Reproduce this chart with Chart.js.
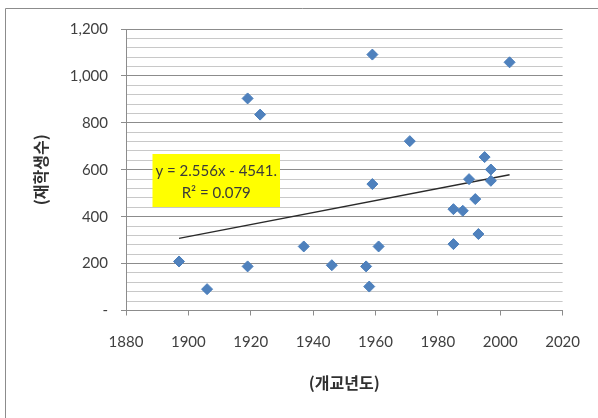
<!DOCTYPE html>
<html>
<head>
<meta charset="utf-8">
<script src="https://cdn.jsdelivr.net/npm/chart.js@4.4.0/dist/chart.umd.min.js"></script>
<style>
  html, body { margin: 0; padding: 0; background: #ffffff; }
  canvas { display: block; }
</style>
</head>
<body>
<canvas id="c" width="598" height="418"></canvas>
<script>
// ---- data ----
const openingYears = [1897, 1906, 1919, 1923, 1919, 1937, 1946, 1957, 1958, 1959, 1959, 1961,
                      1971, 1985, 1985, 1988, 1990, 1992, 1993, 1995, 1997, 1997, 2003];
const studentCounts = [209, 91, 904, 835, 188, 273, 193, 188, 102, 539, 1091, 273,
                       722, 283, 432, 425, 560, 475, 326, 654, 601, 553, 1058];
const trendSlope = 2.556;
const trendIntercept = -4541;
const trendLabelLines = ['y = 2.556x - 4541.', 'R\u00B2 = 0.079'];
const xTitle = '(개교년도)';
const yTitle = '(재학생수)';

const points = openingYears.map((x, i) => ({ x: x, y: studentCounts[i] }));
const xMin = Math.min(...openingYears);
const xMax = Math.max(...openingYears);
const trendPoints = [xMin, xMax].map(x => ({ x: x, y: trendSlope * x + trendIntercept }));

const TICK_FONT = { family: 'Lato, "Open Sans", sans-serif', size: 15 };
const TITLE_FONT = { family: '"Noto Sans CJK KR", sans-serif', size: 16, weight: 'bold' };

const frame = {
  id: 'frame',
  beforeDraw(chart) {
    const ctx = chart.ctx;
    ctx.save();
    ctx.strokeStyle = '#8c8c8c';
    ctx.lineWidth = 1;
    ctx.beginPath();
    ctx.moveTo(5.5, 430);
    ctx.lineTo(5.5, 8.5);
    ctx.lineTo(610, 8.5);
    ctx.stroke();
    ctx.restore();
  }
};

const trendLabel = {
  id: 'trendLabel',
  afterDatasetsDraw(chart) {
    const { ctx, chartArea } = chart;
    const left = chartArea.left + 26.5, top = chartArea.top + 125;
    const w = 127.5, h = 53;
    ctx.save();
    ctx.fillStyle = '#ffff00';
    ctx.fillRect(left, top, w, h);
    ctx.fillStyle = '#3a3a3a';
    ctx.font = '15px Lato, "Open Sans", sans-serif';
    ctx.textAlign = 'center';
    ctx.textBaseline = 'middle';
    ctx.fillText(trendLabelLines[0], left + w / 2, top + 17);
    ctx.fillText(trendLabelLines[1], left + w / 2, top + 39);
    ctx.restore();
  }
};

new Chart(document.getElementById('c'), {
  type: 'scatter',
  data: {
    datasets: [
      {
        label: '재학생수',
        data: points,
        pointStyle: 'rectRot',
        pointRadius: 5.5,
        pointHoverRadius: 5.5,
        backgroundColor: '#4f81bd',
        borderColor: '#4a7ebb',
        borderWidth: 1,
        order: 1
      },
      {
        type: 'line',
        label: 'trend',
        data: trendPoints,
        borderColor: '#2a2a2a',
        borderWidth: 1.3,
        pointRadius: 0,
        fill: false,
        order: 2
      }
    ]
  },
  options: {
    responsive: false,
    animation: false,
    layout: { padding: { top: 29, right: 31, left: 0, bottom: 0 } },
    plugins: {
      legend: { display: false },
      tooltip: { enabled: false }
    },
    scales: {
      x: {
        type: 'linear',
        min: 1880,
        max: 2020,
        afterFit(scale) { scale.height = 107.5; },
        ticks: {
          stepSize: 20,
          color: '#404040',
          font: TICK_FONT,
          padding: 18,
          maxRotation: 0,
          callback: v => String(v)
        },
        grid: {
          drawOnChartArea: false,
          drawTicks: true,
          tickLength: 5,
          tickColor: '#8c8c8c'
        },
        border: { display: true, color: '#8c8c8c', width: 1 },
        title: {
          display: true,
          text: xTitle,
          color: '#303030',
          font: TITLE_FONT,
          padding: { top: 0, bottom: 25.4 }
        }
      },
      y: {
        type: 'linear',
        min: 0,
        max: 1200,
        afterFit(scale) { scale.width = 126; },
        ticks: {
          stepSize: 40,
          autoSkip: false,
          color: '#404040',
          font: TICK_FONT,
          padding: 13,
          callback: v => {
            const r = Math.round(v);
            if (r % 200 !== 0) return '';
            return r === 0 ? '-' : r.toLocaleString('en-US');
          }
        },
        grid: {
          drawTicks: true,
          tickLength: 5,
          lineWidth: 1,
          color: c => (Math.round(c.tick.value) % 200 === 0 ? '#8c8c8c' : '#c8c8c8'),
          tickColor: c => (Math.round(c.tick.value) % 200 === 0 ? '#8c8c8c' : 'rgba(0,0,0,0)')
        },
        border: { display: true, color: '#8c8c8c', width: 1 },
        title: {
          display: true,
          text: yTitle,
          color: '#303030',
          font: TITLE_FONT,
          padding: { top: 31.5, bottom: 0 }
        }
      }
    }
  },
  plugins: [frame, trendLabel]
});
</script>
</body>
</html>
